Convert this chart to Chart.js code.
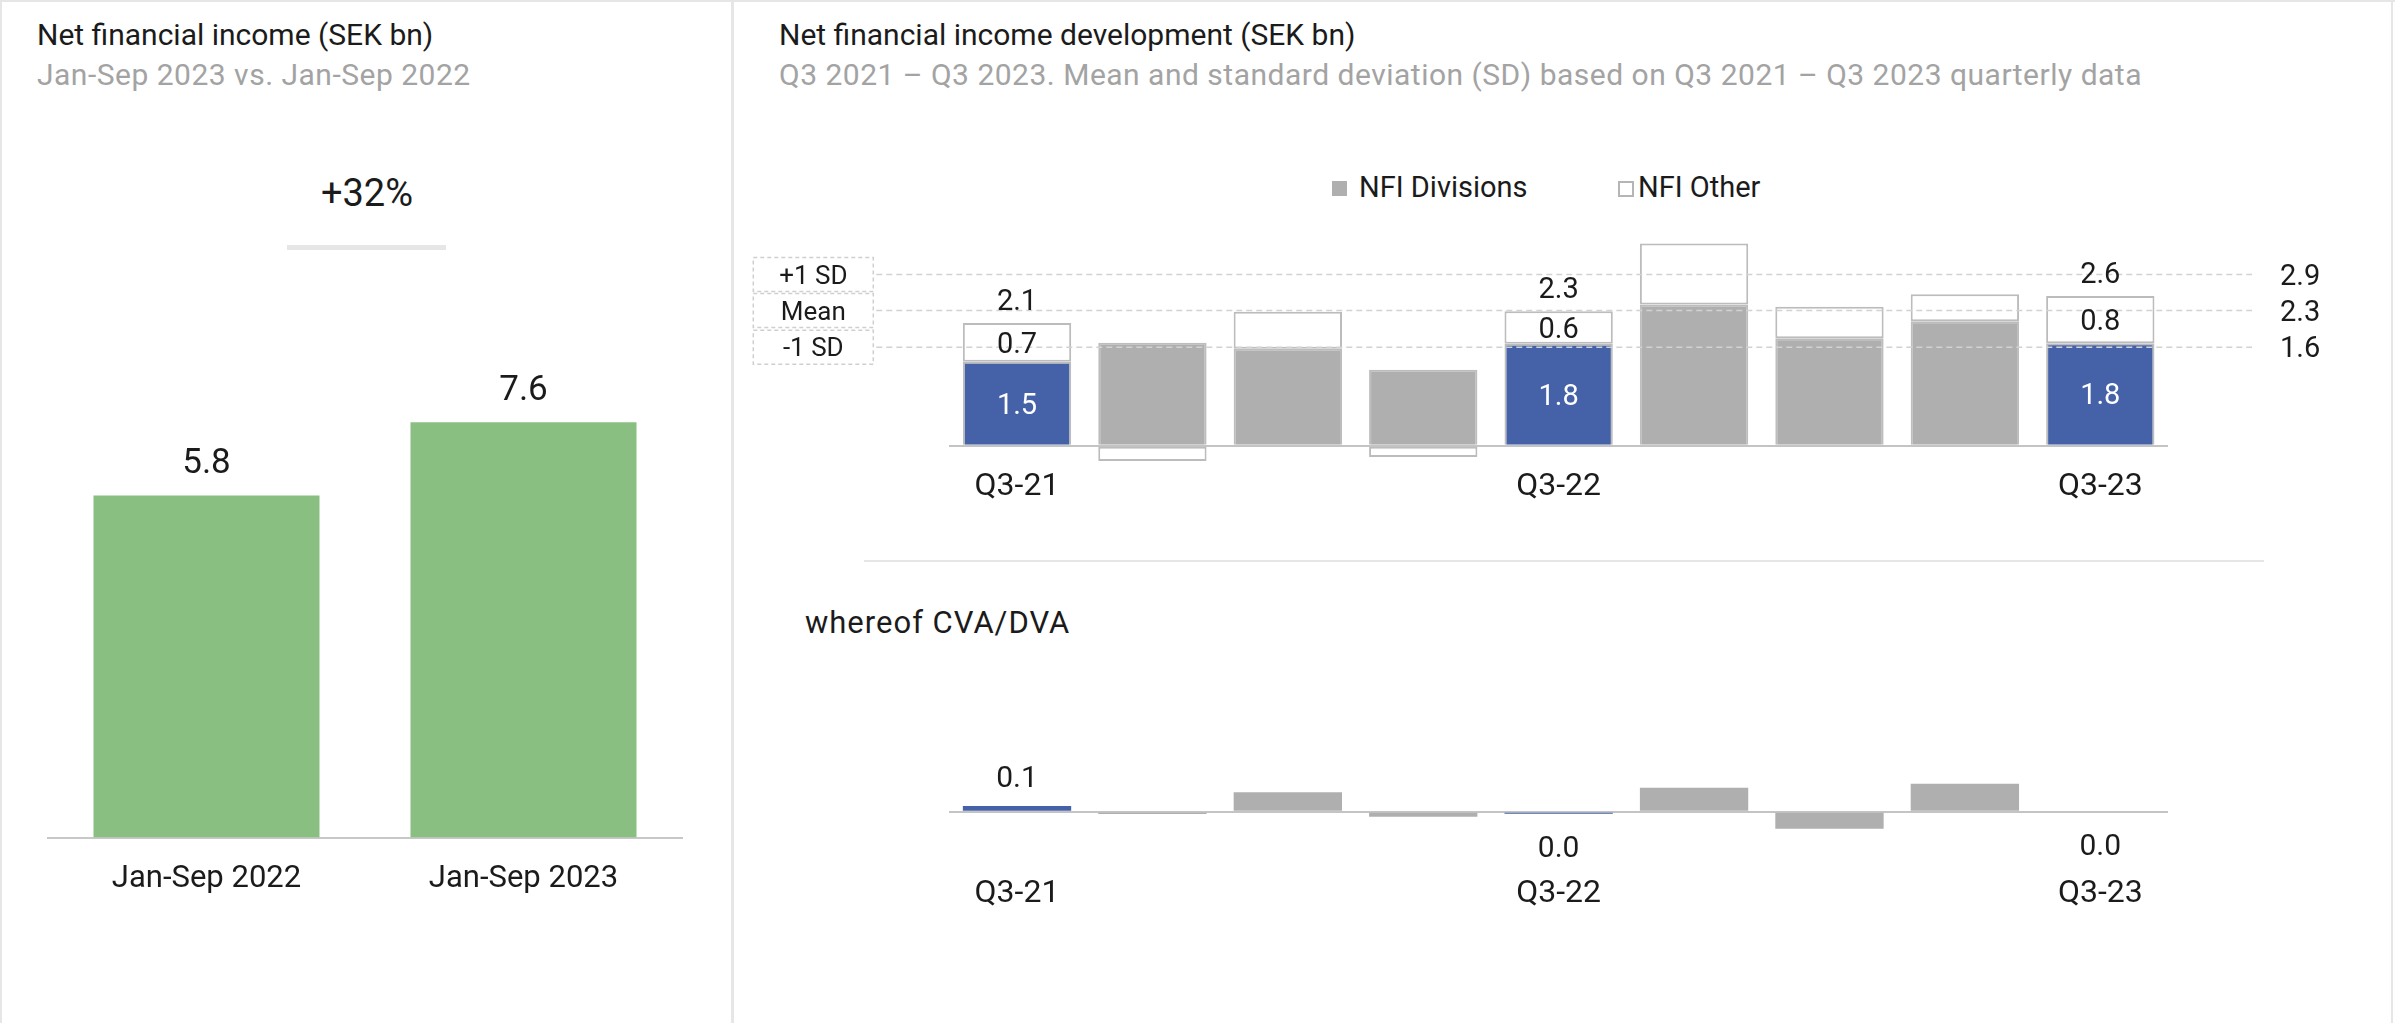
<!DOCTYPE html>
<html>
<head>
<meta charset="utf-8">
<title>Net financial income</title>
<script src="https://cdn.jsdelivr.net/npm/chart.js@4.4.0/dist/chart.umd.min.js"></script>
<style>
  html, body { margin: 0; padding: 0; background: #fff; }
  body { width: 2395px; height: 1023px; position: relative; overflow: hidden; font-family: Roboto, sans-serif; }
  .abs { position: absolute; white-space: nowrap; }
  .line { position: absolute; background: #e6e6e6; }
  .t30 { font-size: 30px; line-height: 36px; }
  .dark { color: #1b1b1b; }
  .grey { color: #a3a3a3; letter-spacing: 0.5px; }
  canvas { position: absolute; }
</style>
</head>
<body>
  <div class="line" style="left:0;top:0;width:2395px;height:2px"></div>
  <div class="line" style="left:0;top:0;width:2px;height:1023px"></div>
  <div class="line" style="left:731px;top:0;width:3px;height:1023px"></div>
  <div class="line" style="left:2391px;top:0;width:2px;height:1023px"></div>

  <canvas id="leftChart" width="733" height="763" style="left:0;top:260px"></canvas>
  <canvas id="nfiChart" width="1650" height="335" style="left:740px;top:215px"></canvas>
  <canvas id="cvaChart" width="1650" height="373" style="left:740px;top:650px"></canvas>

  <div class="abs t30 dark" style="left:37px;top:17px">Net financial income (SEK bn)</div>
  <div class="abs t30 grey" style="left:37px;top:57px">Jan-Sep 2023 vs. Jan-Sep 2022</div>
  <div class="abs dark" style="left:267px;top:170px;width:200px;text-align:center;font-size:38px;line-height:46px">+32%</div>
  <div class="line" style="left:287px;top:245px;width:159px;height:5px"></div>

  <div class="abs t30 dark" style="left:779px;top:17px">Net financial income development (SEK bn)</div>
  <div class="abs t30 grey" style="left:779px;top:57px">Q3 2021 – Q3 2023. Mean and standard deviation (SD) based on Q3 2021 – Q3 2023 quarterly data</div>

  <div class="abs" style="left:1332px;top:181px;width:15px;height:15px;background:#afafaf"></div>
  <div class="abs dark" style="left:1359px;top:170px;font-size:29px;line-height:35px">NFI Divisions</div>
  <div class="abs" style="left:1618px;top:181px;width:12px;height:12px;border:2px solid #b5b5b5;background:#fff"></div>
  <div class="abs dark" style="left:1638px;top:170px;font-size:29px;line-height:35px">NFI Other</div>

  <div class="line" style="left:864px;top:560px;width:1400px;height:2px"></div>
  <div class="abs dark" style="left:805px;top:604px;font-size:31px;line-height:37px;letter-spacing:1px">whereof CVA/DVA</div>

<script>
// left chart: Jan-Sep totals
const periodLabels = ["Jan-Sep 2022", "Jan-Sep 2023"];
const periodValues = [5.8, 7.6];
const periodAxisMin = -2.6; // bars in the reference rise from this level
const periodAxisMax = 10.6;

// right charts: quarterly
const quarters = ["Q3-21", "Q4-21", "Q1-22", "Q2-22", "Q3-22", "Q4-22", "Q1-23", "Q2-23", "Q3-23"];
const nfiDivisions = [1.49, 1.83, 1.72, 1.35, 1.81, 2.51, 1.91, 2.21, 1.82];
const nfiOther = [0.69, -0.27, 0.66, -0.20, 0.58, 1.08, 0.56, 0.48, 0.84];
const totalLabels = ["2.1", "", "", "", "2.3", "", "", "", "2.6"];
const divisionLabels = ["1.5", "", "", "", "1.8", "", "", "", "1.8"];
const otherLabels = ["0.7", "", "", "", "0.6", "", "", "", "0.8"];

const sdNames = ["+1 SD", "Mean", "-1 SD"];
const sdLevels = [3.04, 2.40, 1.75];
const sdValueLabels = ["2.9", "2.3", "1.6"];

const cvaDva = [0.10, -0.04, 0.34, -0.09, -0.035, 0.42, -0.30, 0.49, 0.0];
const cvaLabels = ["0.1", "", "", "", "0.0", "", "", "", "0.0"];

const BLUE = "#4562a8";
const GREY = "#afafaf";
const GREEN = "#8abf82";
const TEXT = "#1b1b1b";
const AXIS = "#c4c4c4";

Chart.defaults.font.family = "Roboto, sans-serif";
Chart.defaults.color = TEXT;
Chart.defaults.animation = false;
Chart.defaults.plugins.legend.display = false;
Chart.defaults.plugins.tooltip.enabled = false;

const isQ3 = q => q.startsWith("Q3");

function drawText(ctx, text, x, baseline, size, color, align) {
  ctx.save();
  ctx.font = size + "px Roboto, sans-serif";
  ctx.fillStyle = color;
  ctx.textAlign = align || "center";
  ctx.textBaseline = "alphabetic";
  ctx.fillText(text, x, baseline);
  ctx.restore();
}

// only the zero line of the value axis
function zeroLineAxis(min, max) {
  return {
    stacked: true,
    min: min,
    max: max,
    ticks: { display: false },
    border: { display: false },
    grid: {
      drawTicks: false,
      lineWidth: 2,
      color: c => (c.tick && c.tick.value === 0 ? AXIS : "rgba(0,0,0,0)")
    },
    afterBuildTicks: s => { s.ticks = [{ value: 0 }]; },
    afterFit: s => { s.width = 0; }
  };
}

function quarterAxis(pad) {
  return {
    stacked: true,
    grid: { display: false, drawTicks: false },
    border: { display: false },
    ticks: {
      font: { size: 32 },
      color: TEXT,
      padding: pad,
      autoSkip: false,
      maxRotation: 0,
      callback: (v, i) => (isQ3(quarters[i]) ? quarters[i] : "")
    },
    afterFit: s => { s.height = 60; }
  };
}

new Chart(document.getElementById("leftChart"), {
  type: "bar",
  data: {
    labels: periodLabels,
    datasets: [{
      data: periodValues,
      base: periodAxisMin,
      backgroundColor: GREEN,
      barPercentage: 0.713,
      categoryPercentage: 1
    }]
  },
  options: {
    responsive: false,
    devicePixelRatio: 1,
    layout: { padding: { left: 48, right: 51, top: 40, bottom: 115.4 } },
    scales: {
      x: {
        grid: { display: false, drawTicks: false },
        border: { color: "#c8c8c8", width: 2 },
        ticks: { font: { size: 31 }, color: TEXT, padding: 23 },
        afterFit: s => { s.height = 70; }
      },
      y: { display: false, min: periodAxisMin, max: periodAxisMax }
    }
  },
  plugins: [{
    id: "periodValues",
    afterDatasetsDraw(chart) {
      const bars = chart.getDatasetMeta(0).data;
      bars.forEach((b, i) => {
        drawText(chart.ctx, periodValues[i].toFixed(1), b.x, b.y - 22, 35, TEXT);
      });
    }
  }]
});

new Chart(document.getElementById("nfiChart"), {
  type: "bar",
  data: {
    labels: quarters,
    datasets: [
      {
        label: "NFI Divisions",
        data: nfiDivisions,
        backgroundColor: quarters.map(q => (isQ3(q) ? BLUE : GREY)),
        borderColor: "#bdbdbd",
        borderWidth: 2,
        borderSkipped: "start",
        barPercentage: 0.8,
        categoryPercentage: 1
      },
      {
        label: "NFI Other",
        data: nfiOther,
        backgroundColor: "#ffffff",
        borderColor: "#bcbcbc",
        borderWidth: 2,
        borderSkipped: false,
        barPercentage: 0.8,
        categoryPercentage: 1
      }
    ]
  },
  options: {
    responsive: false,
    devicePixelRatio: 1,
    layout: { padding: { left: 209.3, right: 222, top: 16.8, bottom: 21.8 } },
    scales: {
      x: quarterAxis(0),
      y: zeroLineAxis(-0.4, 3.8)
    }
  },
  plugins: [{
    id: "sdLines",
    afterDatasetsDraw(chart) {
      const { ctx, chartArea, scales } = chart;
      ctx.save();
      ctx.strokeStyle = "#d2d2d2";
      ctx.lineWidth = 1.5;
      ctx.setLineDash([6, 4]);
      sdLevels.forEach(v => {
        const py = scales.y.getPixelForValue(v);
        ctx.beginPath();
        ctx.moveTo(chartArea.left - 73, py);
        ctx.lineTo(chartArea.right + 84, py);
        ctx.stroke();
      });
      ctx.restore();
    },
    afterDraw(chart) {
      const { ctx, chartArea, scales } = chart;
      // boxes with SD names, values on the right
      sdLevels.forEach((v, i) => {
        const py = scales.y.getPixelForValue(v);
        ctx.save();
        ctx.strokeStyle = "#cfcfcf";
        ctx.lineWidth = 1.5;
        ctx.setLineDash([4, 3]);
        ctx.strokeRect(chartArea.left - 196, py - 17, 120, 34);
        ctx.restore();
        drawText(ctx, sdNames[i], chartArea.left - 136, py + 9.2, 26, TEXT);
        drawText(ctx, sdValueLabels[i], chartArea.right + 112, py + 10.3, 29, TEXT, "left");
      });

      const div = chart.getDatasetMeta(0).data;
      const oth = chart.getDatasetMeta(1).data;
      quarters.forEach((q, i) => {
        if (divisionLabels[i]) {
          drawText(ctx, divisionLabels[i], div[i].x, (div[i].y + div[i].base) / 2 + 10.3, 29, "#ffffff");
        }
        if (otherLabels[i]) {
          drawText(ctx, otherLabels[i], oth[i].x, (oth[i].y + oth[i].base) / 2 + 10.3, 29, TEXT);
        }
        if (totalLabels[i]) {
          drawText(ctx, totalLabels[i], oth[i].x, oth[i].y - 13, 29, TEXT);
        }
      });
    }
  }]
});

new Chart(document.getElementById("cvaChart"), {
  type: "bar",
  data: {
    labels: quarters,
    datasets: [{
      label: "CVA/DVA",
      data: cvaDva,
      backgroundColor: quarters.map(q => (isQ3(q) ? BLUE : GREY)),
      borderWidth: 0,
      barPercentage: 0.8,
      categoryPercentage: 1
    }]
  },
  options: {
    responsive: false,
    devicePixelRatio: 1,
    layout: { padding: { left: 209.3, right: 222, top: 47.7, bottom: 105.7 } },
    scales: {
      x: quarterAxis(17.5),
      y: zeroLineAxis(-0.8, 2.0)
    }
  },
  plugins: [{
    id: "cvaValues",
    afterDraw(chart) {
      const bars = chart.getDatasetMeta(0).data;
      bars.forEach((b, i) => {
        if (!cvaLabels[i]) return;
        if (cvaDva[i] > 0) {
          drawText(chart.ctx, cvaLabels[i], b.x, b.y - 19, 30, TEXT);
        } else {
          drawText(chart.ctx, cvaLabels[i], b.x, Math.max(b.y, b.base) + 43, 30, TEXT);
        }
      });
    }
  }]
});
</script>
</body>
</html>
